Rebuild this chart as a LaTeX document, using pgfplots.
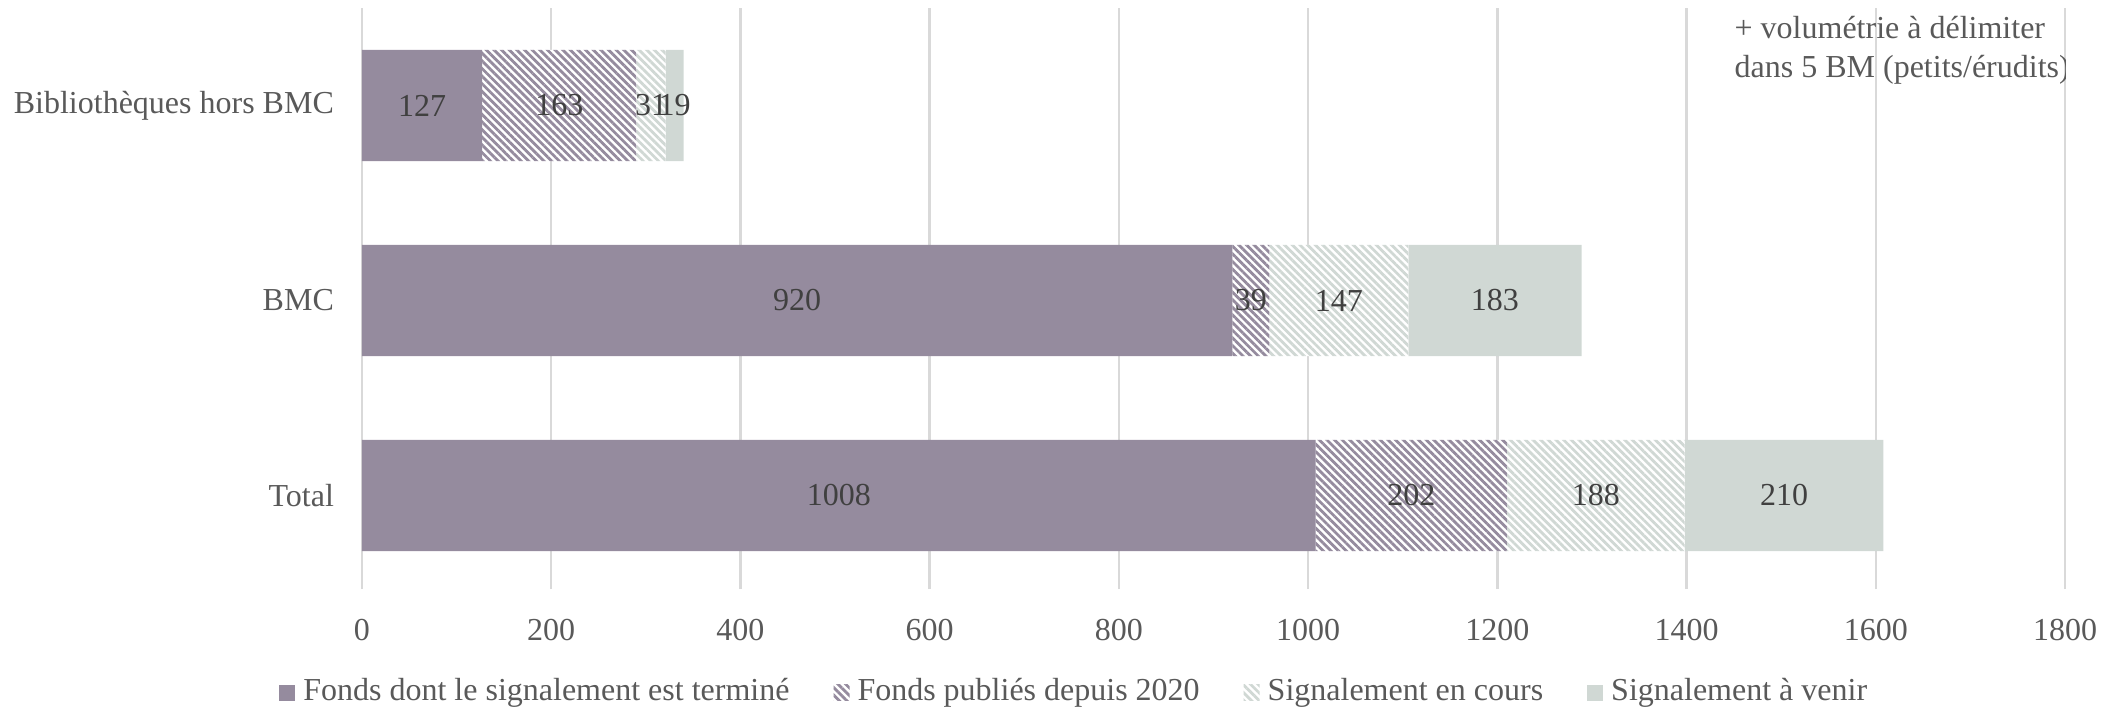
\documentclass[border=0pt]{standalone}
\usepackage{fontspec}
\setmainfont{Liberation Serif}
\usepackage{pgfplots}
\usepackage{pgfplotstable}
\pgfplotsset{compat=1.18}
\usetikzlibrary{patterns.meta}
\definecolor{mpurple}{HTML}{958B9E}
\definecolor{mgreen}{HTML}{D0D8D4}
\definecolor{mgrid}{HTML}{D9D9D9}
\definecolor{mtext}{HTML}{595959}
\definecolor{mval}{HTML}{404040}

% y: 0 = Total, 1 = BMC, 2 = Bibliotheques hors BMC
\pgfplotstableread{
y v
0 1008
1 920
2 127
}\termine
\pgfplotstableread{
y v
0 202
1 39
2 163
}\publies
\pgfplotstableread{
y v
0 188
1 147
2 31
}\encours
\pgfplotstableread{
y v
0 210
1 183
2 19
}\avenir

\newcommand{\lbl}{\fontsize{8}{9.6}\selectfont}

\begin{document}
\begin{tikzpicture}
\begin{axis}[
    xbar stacked,
    x=0.236528pt, y=48.75pt,
    xmin=0, xmax=1800,
    ymin=-0.48, ymax=2.5,
    bar width=0.57,
    xtick={0,200,...,1800},
    ytick={0,1,2},
    yticklabels={Total, BMC, Bibliothèques hors BMC},
    major tick length=0pt,
    axis line style={draw=none},
    xmajorgrids, grid style={mgrid, line width=0.6pt},
    /pgf/number format/assume math mode=true,
    /pgf/number format/set thousands separator={},
    ticklabel style={font=\lbl, text=mtext},
    yticklabel style={xshift=-3.5pt},
    xticklabel style={yshift=-4pt},
    nodes near coords,
    point meta=explicit,
    every node near coord/.append style={anchor=center, font=\lbl, text=mval},
    legend style={at={(rel axis cs:0.42,-0.178)}, anchor=center,
        legend columns=4, draw=none, font=\lbl, text=mtext,
        /tikz/every even column/.append style={column sep=9pt}},
    legend cell align=left,
    legend image code/.code={\path[#1, draw=none] (0pt,-2pt) rectangle (4pt,2pt);},
  ]
  \addplot[fill=mpurple, draw=none] table[x=v, y=y, meta=v] {\termine};
  \addplot[fill=white, draw=none,
    postaction={pattern={Lines[angle=-45,distance=1.35pt,line width=0.7pt]}, pattern color=mpurple}]
    table[x=v, y=y, meta=v] {\publies};
  \addplot[fill=white, draw=none,
    postaction={pattern={Lines[angle=-45,distance=1.35pt,line width=0.7pt]}, pattern color=mgreen}]
    table[x=v, y=y, meta=v] {\encours};
  \addplot[fill=mgreen, draw=none] table[x=v, y=y, meta=v] {\avenir};
  \legend{Fonds dont le signalement est terminé, Fonds publiés depuis 2020,
    Signalement en cours, Signalement à venir}

  \node[anchor=north west, align=left, font=\lbl, text=mtext, inner sep=0pt]
    at (axis cs:1450,2.46) {+ volumétrie à délimiter\\dans 5 BM (petits/érudits)};

  \coordinate (ll) at (rel axis cs:0,0);
  \coordinate (ur) at (rel axis cs:1,1);
\end{axis}
\pgfresetboundingbox
\path ([xshift=-90.5pt,yshift=-30pt]ll) rectangle ([xshift=13.75pt,yshift=2pt]ur);
\end{tikzpicture}
\end{document}
